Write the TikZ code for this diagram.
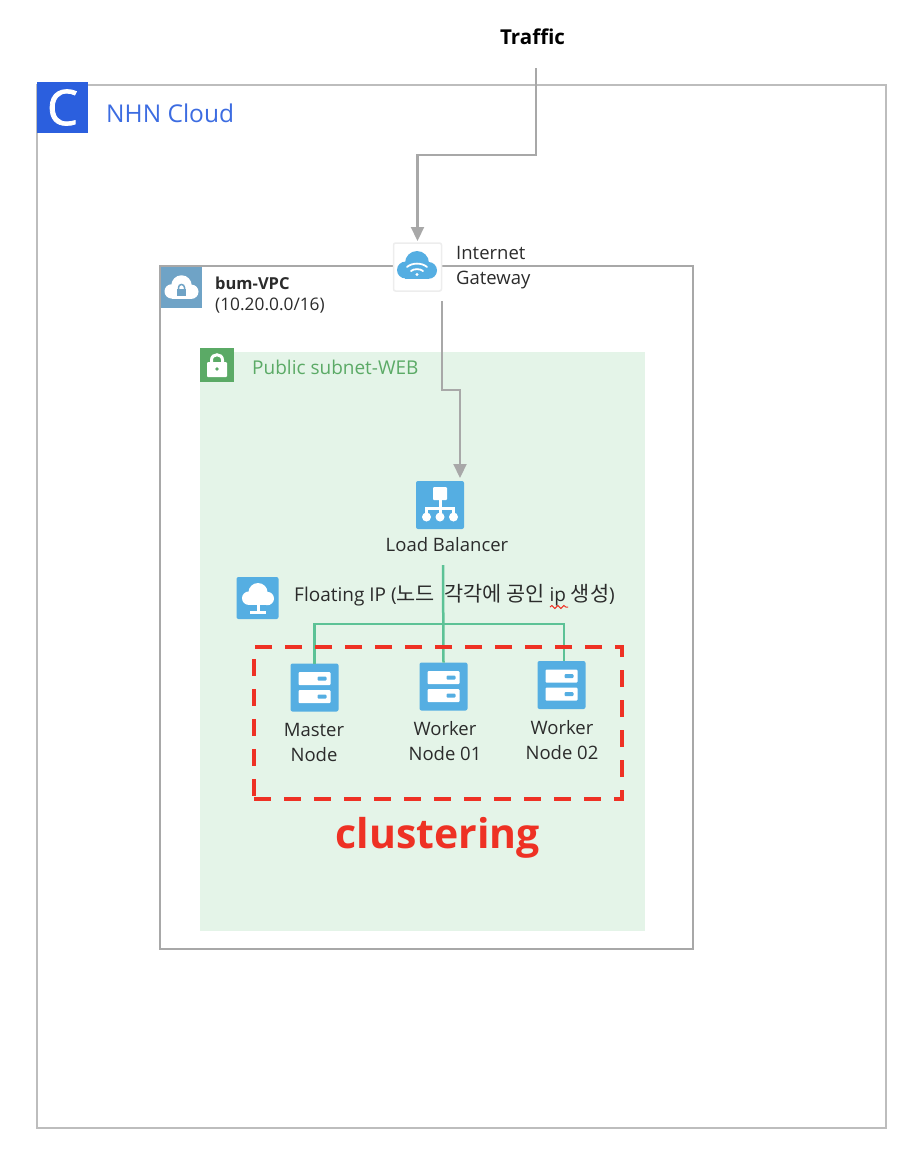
\documentclass[tikz,border=0pt]{standalone}
\usepackage{fontspec}
\setmainfont{Open Sans}
\newfontfamily\krfont{Noto Sans CJK KR}
\newfontfamily\logofont[FakeBold=1.6]{Open Sans}
\usetikzlibrary{positioning,arrows.meta,decorations.pathmorphing}
\definecolor{framegray}{HTML}{BDBDBD}
\definecolor{vpcgray}{HTML}{A8A8A8}
\definecolor{nhnblue}{HTML}{2B5FDE}
\definecolor{iconblue}{HTML}{55AEE2}
\definecolor{vpcblue}{HTML}{6FA3C6}
\definecolor{subnetgreen}{HTML}{E4F4E8}
\definecolor{lockgreen}{HTML}{5BAA66}
\definecolor{linkgreen}{HTML}{5CC296}
\definecolor{dashred}{HTML}{EE3124}
\definecolor{labelgray}{HTML}{2B2B2B}
\tikzset{
  cloud glyph/.pic={
    \fill[pic actions] (-0.58,0.2) circle (0.42) (0,-0.15) circle (0.6) (0.58,0.22) circle (0.42);
    \fill[pic actions] (-0.58,0) rectangle (0.58,0.64);
  },
  server glyph/.pic={
    \fill[white,rounded corners=1pt] (-16,-15.5) rectangle (16,-2.5);
    \fill[white,rounded corners=1pt] (-16,2.5) rectangle (16,15.5);
    \fill[iconblue,rounded corners=1pt] (3,-11) rectangle (12,-7);
    \fill[iconblue,rounded corners=1pt] (3,7) rectangle (12,11);
  }
}
\begin{document}
\begin{tikzpicture}[x=1pt,y=-1pt,
    box/.style={rectangle,draw,inner sep=0pt,outer sep=0pt,line width=2pt},
    icon/.style={rectangle,fill=iconblue,rounded corners=2pt,inner sep=0pt,outer sep=0pt,minimum size=48pt},
    txt/.style={font=\fontsize{18.5}{25}\selectfont,text=labelgray,inner sep=0pt,align=center},
    flow/.style={draw=vpcgray,line width=2.2pt,-{Triangle[length=14pt,width=13pt]}},
    link/.style={draw=linkgreen,line width=2.5pt}
  ]
  \useasboundingbox (0,0) rectangle (920,1154);
  % frames
  \node[box,draw=framegray,minimum width=849pt,minimum height=1043pt] (cloud) at (461.5,606.5) {};
  \node[box,draw=vpcgray,minimum width=533pt,minimum height=683pt] (vpc) at (426.5,607.5) {};
  \node[rectangle,fill=subnetgreen,inner sep=0pt,minimum width=445pt,minimum height=579pt] (subnet) at (422.5,641.5) {};
  % headers
  \node[rectangle,fill=nhnblue,inner sep=0pt,minimum size=51pt,text=white,font=\logofont\fontsize{49}{49}\selectfont] (nhnicon) at (62.5,107.5) {C};
  \node[anchor=west,inner sep=0pt,text=nhnblue!92!white,font=\fontsize{24.5}{28}\selectfont] (nhnlabel) at (106,113) {NHN Cloud};
  \node[font=\fontsize{20.5}{24}\selectfont\bfseries,inner sep=0pt] (traffic) at (532.5,37) {Traffic};
  % vpc header
  \node[rectangle,fill=vpcblue,inner sep=0pt,minimum size=41pt] (vpcicon) at (181,287.5) {};
  \pic[fill=white,scale=17] at (181.5,288) {cloud glyph};
  \fill[vpcblue] (177,289) rectangle (186,296);
  \draw[vpcblue,line width=1.5pt] (178.5,290) -- (178.5,287.5) .. controls (178.5,283.5) and (184.5,283.5) .. (184.5,287.5) -- (184.5,290);
  \node[txt,anchor=west,font=\fontsize{16.5}{20}\selectfont\bfseries] (vpcname) at (215,283) {bum-VPC};
  \node[txt,anchor=west,font=\fontsize{17.3}{20}\selectfont] (vpccidr) at (215,306) {(10.20.0.0/16)};
  % subnet header
  \node[rectangle,fill=lockgreen,inner sep=0pt,minimum size=34pt] (lockicon) at (217,365) {};
  \fill[white,rounded corners=1pt] (207,362) rectangle (227,377);
  \draw[white,line width=3pt] (211.5,363) -- (211.5,360) .. controls (211.5,353) and (222.5,353) .. (222.5,360) -- (222.5,363);
  \fill[lockgreen] (217,369) circle (1.8);
  \node[txt,anchor=west,text=lockgreen,font=\fontsize{19}{25}\selectfont] (subnetlabel) at (252,367) {Public subnet-WEB};
  % gateway
  \node[rectangle,draw=black!7,fill=white,line width=1.5pt,rounded corners=2pt,inner sep=0pt,outer sep=0pt,minimum size=48pt] (gateway) at (417.5,267) {};
  \pic[fill=iconblue,scale=20] at (417,266) {cloud glyph};
  \draw[white,line width=1.8pt,line cap=round] (407,267) .. controls (412,262.5) and (422,262.5) .. (427,267);
  \draw[white,line width=1.8pt,line cap=round] (411,271) .. controls (414,268.5) and (420,268.5) .. (423,271);
  \fill[white] (417,274.5) circle (1.6);
  \node[txt,anchor=west,align=left] (gatewaylabel) at (456,267.5) {Internet\\Gateway};
  % load balancer
  \node[icon] (lb) at (440,505) {};
  \fill[white,rounded corners=1pt] (433,487) rectangle (447,500);
  \draw[white,line width=3pt] (440,500) -- (440,517) (426.5,517) -- (426.5,508) -- (453.5,508) -- (453.5,517);
  \fill[white] (426.5,517) circle (4.5) (440,517) circle (4.5) (453.5,517) circle (4.5);
  \node[txt] (lblabel) at (447,545) {Load Balancer};
  % floating ip
  \node[icon,minimum size=42pt] (floating) at (257.5,598) {};
  \pic[fill=white,scale=16] at (258,595) {cloud glyph};
  \fill[white] (256.5,603) rectangle (259.5,612);
  \fill[white] (250,610.5) rectangle (266,614);
  \node[txt,anchor=west,font=\fontsize{19}{25}\selectfont] (floatinglabel) at (294,595) {Floating IP ({\krfont\fontsize{20.8}{25}\selectfont 노드\ \ 각각에 공인} ip {\krfont\fontsize{20.8}{25}\selectfont 생성})};
  \draw[dashred,line width=1pt,decorate,decoration={snake,amplitude=1.5pt,segment length=6pt}] (550,607) -- (568,607);
  % nodes
  \node[icon] (master) at (314.5,687.5) {};
  \pic at (314.5,687.5) {server glyph};
  \node[icon] (worker1) at (443.5,686.5) {};
  \pic at (443.5,686.5) {server glyph};
  \node[icon] (worker2) at (561.5,685) {};
  \pic at (561.5,685) {server glyph};
  \node[txt] (masterlabel) at (314,742) {Master\\Node};
  \node[txt] (worker1label) at (445,741) {Worker\\Node 01};
  \node[txt] (worker2label) at (562,740) {Worker\\Node 02};
  % connectors
  \coordinate (trafficout) at (536,68);
  \coordinate (gatewayout) at (442,301);
  \coordinate (lbout) at (443,565);
  \coordinate (bus) at (443,624);
  \draw[flow,shorten >=2pt] (trafficout) -- (536,155) -| (gateway.north);
  \draw[flow,shorten >=3pt] (gatewayout) -- (442,390) -- (460,390) -- (460,481);
  \path[link]
    (lbout) edge (worker1.north)
    (bus) edge [to path={-| (\tikztotarget)}] (master.north)
    (bus) edge [to path={-| (\tikztotarget)}] ([xshift=2.5pt]worker2.north);
  % clustering
  \node[rectangle,draw=dashred,line width=4pt,dash pattern=on 17pt off 13pt,inner sep=0pt,outer sep=0pt,minimum width=368pt,minimum height=152pt] (cluster) at (438,723) {};
  \node[below=18pt of cluster,inner sep=0pt,text=dashred,font=\fontsize{41}{48}\selectfont\bfseries] (clusterlabel) {clustering};
\end{tikzpicture}
\end{document}
